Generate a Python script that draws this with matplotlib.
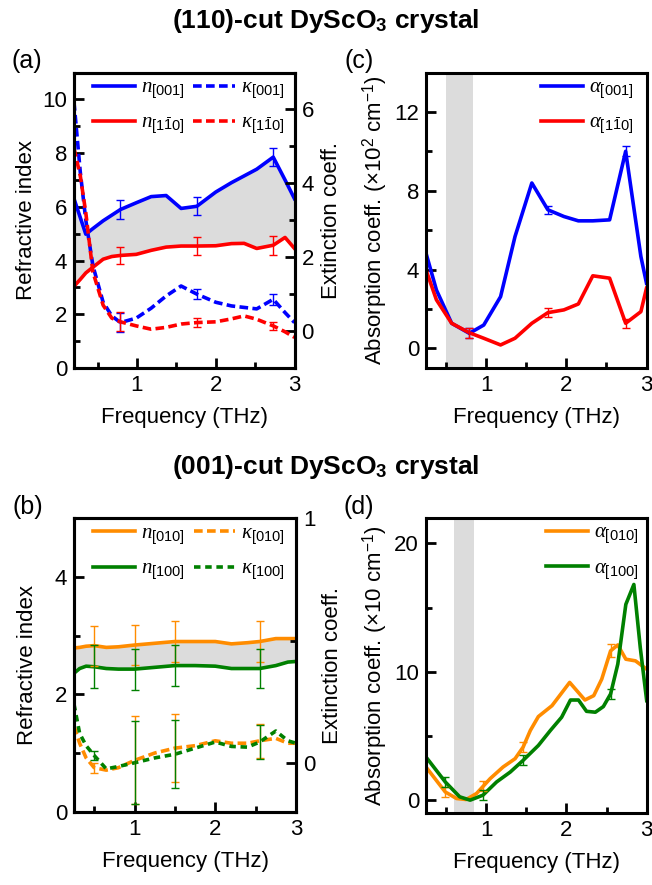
import numpy as np
import matplotlib
matplotlib.use('Agg')
import matplotlib.pyplot as plt
from matplotlib.ticker import MultipleLocator

plt.rcParams['font.family'] = ['Liberation Sans', 'DejaVu Sans']
plt.rcParams['font.size'] = 16
plt.rcParams['mathtext.fontset'] = 'custom'
plt.rcParams['mathtext.rm'] = 'Liberation Sans'
plt.rcParams['mathtext.it'] = 'Liberation Serif:italic'
plt.rcParams['mathtext.bf'] = 'Liberation Sans:bold'

# ---- (a) (110)-cut, refractive index / extinction coefficient
freq_a = [0.20, 0.28, 0.35, 0.44, 0.57, 0.68, 0.79, 0.99, 1.18, 1.37, 1.56, 1.76,
          2.00, 2.20, 2.36, 2.52, 2.73, 2.88, 3.00]
n_001 = [6.30, 5.60, 4.98, 5.19, 5.48, 5.69, 5.90, 6.15, 6.38, 6.42, 5.94, 6.02,
         6.55, 6.90, 7.15, 7.40, 7.85, 7.00, 6.30]
n_110 = [3.04, 3.30, 3.54, 3.75, 4.05, 4.15, 4.19, 4.23, 4.38, 4.50, 4.54, 4.54,
         4.55, 4.63, 4.64, 4.45, 4.57, 4.86, 4.45]
k_001 = [6.20, 4.30, 3.00, 1.77, 0.78, 0.41, 0.23, 0.35, 0.62, 0.95, 1.22, 1.00,
         0.78, 0.68, 0.64, 0.60, 0.86, 0.50, 0.23]
k_110 = [4.95, 4.20, 3.20, 1.60, 0.70, 0.35, 0.25, 0.14, 0.05, 0.10, 0.19, 0.23,
         0.25, 0.33, 0.41, 0.32, 0.14, -0.02, -0.17]
err_f_a = [0.79, 1.76, 2.73]
err_n001 = [0.34, 0.34, 0.33]
err_n110 = [0.33, 0.34, 0.35]
err_k001 = [0.26, 0.14, 0.15]
err_k110 = [0.26, 0.13, 0.10]

# ---- (c) (110)-cut, absorption coefficient (x10^2 cm^-1)
freq_c = [0.25, 0.38, 0.57, 0.79, 0.97, 1.18, 1.36, 1.57, 1.77, 1.97, 2.15, 2.33,
          2.54, 2.74, 2.93, 3.00]
a_001 = [4.83, 2.96, 1.27, 0.76, 1.18, 2.62, 5.67, 8.39, 7.03, 6.69, 6.47, 6.47,
         6.52, 10.0, 4.66, 3.30]
a_110 = [3.98, 2.46, 1.27, 0.79, 0.51, 0.17, 0.51, 1.27, 1.81, 1.95, 2.25, 3.68,
         3.56, 1.27, 1.86, 3.05]
err_f_c = [0.79, 1.77, 2.74]
err_a001 = [0.25, 0.20, 0.25]
err_a110 = [0.25, 0.23, 0.23]
band_c = (0.50, 0.84)

# ---- (b) (001)-cut, refractive index / extinction coefficient
freq_b = [0.25, 0.32, 0.40, 0.50, 0.65, 0.80, 1.00, 1.25, 1.50, 1.75, 2.00, 2.20,
          2.40, 2.55, 2.75, 2.90, 3.00]
n_010 = [2.79, 2.80, 2.82, 2.83, 2.80, 2.81, 2.84, 2.87, 2.90, 2.90, 2.90, 2.86,
         2.88, 2.90, 2.95, 2.95, 2.95]
n_100 = [2.36, 2.44, 2.48, 2.47, 2.44, 2.43, 2.43, 2.46, 2.49, 2.49, 2.48, 2.44,
         2.44, 2.44, 2.49, 2.55, 2.56]
k_010 = [0.15, 0.08, 0.02, -0.02, -0.03, -0.02, 0.01, 0.04, 0.06, 0.07, 0.09, 0.08,
         0.08, 0.09, 0.10, 0.08, 0.08]
k_100 = [0.24, 0.12, 0.07, 0.03, -0.025, -0.015, 0.00, 0.02, 0.035, 0.06, 0.085, 0.067,
         0.064, 0.085, 0.13, 0.09, 0.08]
err_f_b = [0.50, 1.00, 1.50, 2.55]
err_n010 = [0.34, 0.34, 0.35, 0.35]
err_n100 = [0.37, 0.35, 0.35, 0.34]
err_k010 = [0.02, 0.18, 0.14, 0.07]
err_k100 = [0.02, 0.17, 0.14, 0.07]

# ---- (d) (001)-cut, absorption coefficient (x10 cm^-1)
freq_d010 = [0.25, 0.49, 0.63, 0.75, 0.88, 1.05, 1.21, 1.36, 1.46, 1.55, 1.65, 1.82,
             2.04, 2.23, 2.34, 2.44, 2.55, 2.64, 2.74, 2.86, 3.00]
a_010 = [2.58, 0.64, 0.13, 0.05, 0.52, 1.68, 2.58, 3.23, 4.13, 5.43, 6.51, 7.36,
         9.17, 7.80, 8.14, 9.43, 11.63, 12.09, 10.98, 10.85, 10.20]
freq_d100 = [0.25, 0.49, 0.67, 0.80, 0.96, 1.13, 1.30, 1.46, 1.65, 1.80, 1.94, 2.05,
             2.15, 2.25, 2.36, 2.46, 2.55, 2.64, 2.74, 2.84, 2.92, 3.00]
a_100 = [3.36, 1.42, 0.26, 0.00, 0.39, 1.42, 2.19, 3.10, 4.26, 5.43, 6.46, 7.80,
         7.80, 6.92, 6.85, 7.29, 8.27, 10.60, 15.25, 16.80, 11.88, 7.75]
err_f_d = [0.49, 0.96, 1.46, 2.55]
err_c010 = [0.64, 1.10, 4.13, 11.63]
err_a010 = [0.4, 0.4, 0.4, 0.5]
err_c100 = [1.42, 0.39, 3.10, 8.27]
err_a100 = [0.4, 0.4, 0.4, 0.4]
band_d = (0.60, 0.85)

BLUE, RED, ORANGE, GREEN = '#0000ff', '#ff0000', '#ff8c00', '#008000'
GRAY = '#dcdcdc'
LW = 2.6

W, H = 652, 885
fig = plt.figure(figsize=(W / 100, H / 100), dpi=100)


def box(x0, y0, x1, y1):
    return [x0 / W, 1 - y1 / H, (x1 - x0) / W, (y1 - y0) / H]


def style(ax, right=False):
    for s in ax.spines.values():
        s.set_linewidth(2.2)
    ax.tick_params(which='both', direction='in', width=2.0, top=False,
                   right=right, left=not right, labelsize=16, pad=5)
    ax.tick_params(which='major', length=7)
    ax.tick_params(which='minor', length=4)


def xaxis(ax, lim):
    ax.set_xlim(*lim)
    ax.xaxis.set_major_locator(MultipleLocator(1))
    ax.xaxis.set_minor_locator(MultipleLocator(0.5))
    ax.set_xlabel('Frequency (THz)', fontsize=16, labelpad=8)


dash = (2.4, 1.2)
leg_kw = dict(frameon=False, fontsize=15, borderaxespad=0.0, handlelength=2.0,
              handletextpad=0.3, labelspacing=0.6)

# ---------------- (a)
ax_a = fig.add_axes(box(74, 72.5, 294.5, 368))
style(ax_a)
xaxis(ax_a, (0.2, 3.0))
ax_a.set_ylim(0, 11)
ax_a.yaxis.set_major_locator(MultipleLocator(2))
ax_a.yaxis.set_minor_locator(MultipleLocator(1))
ax_a.set_ylabel('Refractive index', fontsize=16, labelpad=4)
ax_a.fill_between(freq_a, n_110, n_001, color=GRAY, lw=0)
l1, = ax_a.plot(freq_a, n_001, color=BLUE, lw=LW, label=r'$n_{[001]}$')
l2, = ax_a.plot(freq_a, n_110, color=RED, lw=LW, label=r'$n_{[1\bar{1}0]}$')
ax_a.errorbar(err_f_a, np.interp(err_f_a, freq_a, n_001), yerr=err_n001, fmt='none',
              ecolor=BLUE, elinewidth=1, capsize=3, capthick=1)
ax_a.errorbar(err_f_a, np.interp(err_f_a, freq_a, n_110), yerr=err_n110, fmt='none',
              ecolor=RED, elinewidth=1, capsize=3, capthick=1)

tw_a = ax_a.twinx()
style(tw_a, right=True)
tw_a.set_ylim(-1, 7)
tw_a.yaxis.set_major_locator(MultipleLocator(2))
tw_a.yaxis.set_minor_locator(MultipleLocator(1))
tw_a.set_ylabel('Extinction coeff.', fontsize=16, labelpad=5)
l3, = tw_a.plot(freq_a, k_001, color=BLUE, lw=LW, dashes=dash, label=r'$\kappa_{[001]}$')
l4, = tw_a.plot(freq_a, k_110, color=RED, lw=LW, dashes=dash, label=r'$\kappa_{[1\bar{1}0]}$')
tw_a.errorbar(err_f_a, np.interp(err_f_a, freq_a, k_001), yerr=err_k001, fmt='none',
              ecolor=BLUE, elinewidth=1, capsize=3, capthick=1)
tw_a.errorbar(err_f_a, np.interp(err_f_a, freq_a, k_110), yerr=err_k110, fmt='none',
              ecolor=RED, elinewidth=1, capsize=3, capthick=1)
tw_a.legend(handles=[l1, l2, l3, l4], ncol=2, loc='upper left',
            bbox_to_anchor=(0.05, 1.01), columnspacing=0.4, **leg_kw)

# ---------------- (c)
ax_c = fig.add_axes(box(426, 72.5, 646.5, 368))
style(ax_c)
xaxis(ax_c, (0.25, 3.0))
ax_c.set_ylim(-1, 14)
ax_c.yaxis.set_major_locator(MultipleLocator(4))
ax_c.yaxis.set_minor_locator(MultipleLocator(2))
ax_c.set_ylabel(r'Absorption coeff. ($\times$10$^2$ cm$^{-1}$)', fontsize=16, labelpad=3)
ax_c.axvspan(*band_c, color=GRAY, lw=0)
ax_c.plot(freq_c, a_001, color=BLUE, lw=LW, label=r'$\alpha_{[001]}$')
ax_c.plot(freq_c, a_110, color=RED, lw=LW, label=r'$\alpha_{[1\bar{1}0]}$')
ax_c.errorbar(err_f_c, np.interp(err_f_c, freq_c, a_001), yerr=err_a001, fmt='none',
              ecolor=BLUE, elinewidth=1, capsize=3, capthick=1)
ax_c.errorbar(err_f_c, np.interp(err_f_c, freq_c, a_110), yerr=err_a110, fmt='none',
              ecolor=RED, elinewidth=1, capsize=3, capthick=1)
ax_c.legend(loc='upper right', bbox_to_anchor=(0.98, 1.01), **leg_kw)

# ---------------- (b)
ax_b = fig.add_axes(box(74, 518.3, 296, 811.7))
style(ax_b)
xaxis(ax_b, (0.25, 3.0))
ax_b.set_ylim(0, 5)
ax_b.yaxis.set_major_locator(MultipleLocator(2))
ax_b.yaxis.set_minor_locator(MultipleLocator(1))
ax_b.set_ylabel('Refractive index', fontsize=16, labelpad=12)
ax_b.fill_between(freq_b, n_100, n_010, color=GRAY, lw=0)
m1, = ax_b.plot(freq_b, n_010, color=ORANGE, lw=LW, label=r'$n_{[010]}$')
m2, = ax_b.plot(freq_b, n_100, color=GREEN, lw=LW, label=r'$n_{[100]}$')
ax_b.errorbar(err_f_b, np.interp(err_f_b, freq_b, n_010), yerr=err_n010, fmt='none',
              ecolor=ORANGE, elinewidth=1, capsize=3, capthick=1)
ax_b.errorbar(err_f_b, np.interp(err_f_b, freq_b, n_100), yerr=err_n100, fmt='none',
              ecolor=GREEN, elinewidth=1, capsize=3, capthick=1)

tw_b = ax_b.twinx()
style(tw_b, right=True)
tw_b.set_ylim(-0.2, 1.0)
tw_b.yaxis.set_major_locator(MultipleLocator(1))
tw_b.yaxis.set_minor_locator(MultipleLocator(0.5))
tw_b.set_ylabel('Extinction coeff.', fontsize=16, labelpad=5)
m3, = tw_b.plot(freq_b, k_010, color=ORANGE, lw=LW, dashes=dash, label=r'$\kappa_{[010]}$')
m4, = tw_b.plot(freq_b, k_100, color=GREEN, lw=LW, dashes=(1.8, 1.3), label=r'$\kappa_{[100]}$')
tw_b.errorbar(err_f_b, np.interp(err_f_b, freq_b, k_010), yerr=err_k010, fmt='none',
              ecolor=ORANGE, elinewidth=1, capsize=3, capthick=1)
tw_b.errorbar(err_f_b, np.interp(err_f_b, freq_b, k_100), yerr=err_k100, fmt='none',
              ecolor=GREEN, elinewidth=1, capsize=3, capthick=1)
tw_b.legend(handles=[m1, m2, m3, m4], ncol=2, loc='upper left',
            bbox_to_anchor=(0.05, 1.01), columnspacing=0.4, **leg_kw)

# ---------------- (d)
ax_d = fig.add_axes(box(426, 517.7, 646.7, 813))
style(ax_d)
xaxis(ax_d, (0.25, 3.0))
ax_d.set_ylim(-1, 22)
ax_d.yaxis.set_major_locator(MultipleLocator(10))
ax_d.yaxis.set_minor_locator(MultipleLocator(5))
ax_d.set_ylabel(r'Absorption coeff. ($\times$10 cm$^{-1}$)', fontsize=16, labelpad=3)
ax_d.axvspan(*band_d, color=GRAY, lw=0)
ax_d.plot(freq_d010, a_010, color=ORANGE, lw=LW, label=r'$\alpha_{[010]}$')
ax_d.plot(freq_d100, a_100, color=GREEN, lw=LW, label=r'$\alpha_{[100]}$')
ax_d.errorbar(err_f_d, err_c010, yerr=err_a010, fmt='none',
              ecolor=ORANGE, elinewidth=1, capsize=3, capthick=1)
ax_d.errorbar(err_f_d, err_c100, yerr=err_a100, fmt='none',
              ecolor=GREEN, elinewidth=1, capsize=3, capthick=1)
ax_d.legend(loc='upper right', bbox_to_anchor=(1.0, 1.01), **leg_kw)

# titles and panel labels
fig.text(0.5, 1 - 21 / H, r'(110)-cut DyScO$_\mathbf{3}$ crystal', ha='center', va='center',
         fontsize=19, fontweight='bold')
fig.text(0.5, 1 - 467 / H, r'(001)-cut DyScO$_\mathbf{3}$ crystal', ha='center', va='center',
         fontsize=19, fontweight='bold')
for lab, x, y in [('(a)', 27, 61), ('(c)', 359, 61), ('(b)', 28, 507), ('(d)', 359, 507)]:
    fig.text(x / W, 1 - y / H, lab, ha='center', va='center', fontsize=18)

fig.savefig('out.png', dpi=100)
